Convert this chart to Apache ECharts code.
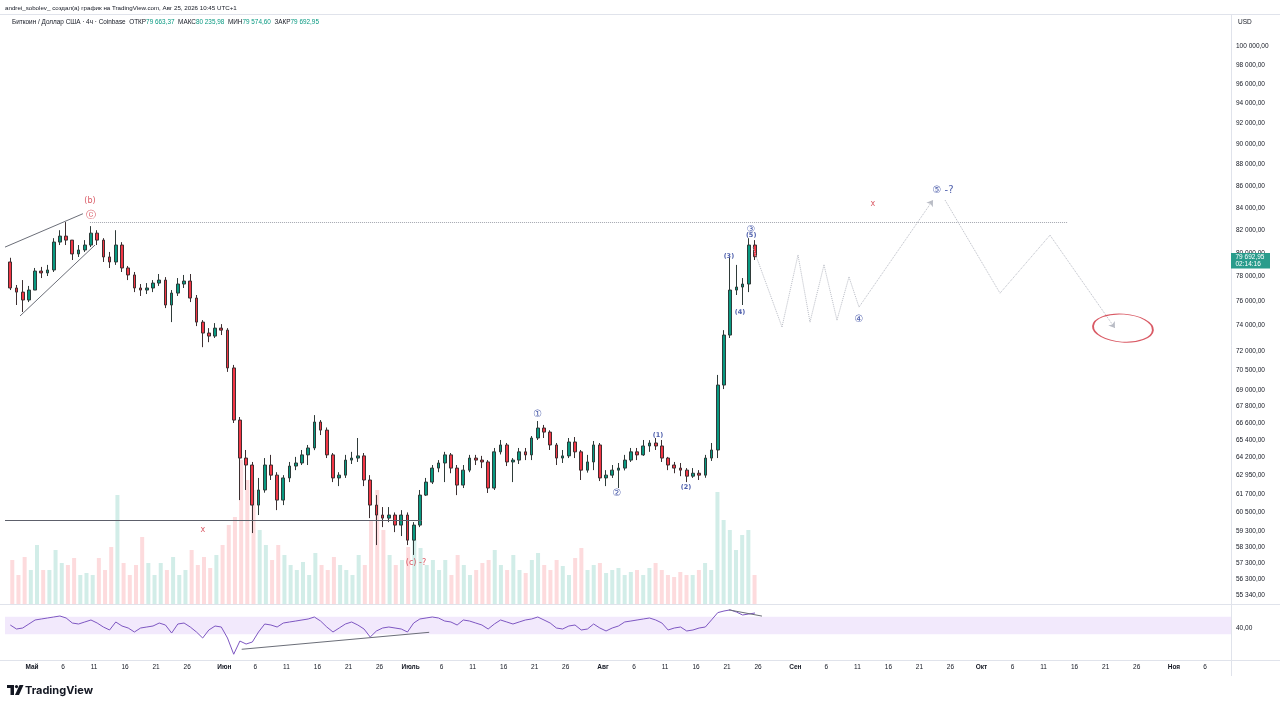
<!DOCTYPE html>
<html><head><meta charset="utf-8">
<script src="https://cdn.jsdelivr.net/npm/echarts@6/dist/echarts.min.js"></script>
<style>html,body{margin:0;padding:0;background:#fff}#c{width:1280px;height:706px}</style>
</head><body><div id="c"></div>
<script>
// ---------- DATA (daily resolution) ----------
const firstDay = '2026-04-27';
const firstOpen = 79240;
const closes = [77050,76710,76060,76880,78470,78310,78560,80960,81480,81130,
79930,80270,80700,81740,81130,79670,79240,80700,78730,78140,
77050,76880,77050,77460,77710,75650,76630,77380,77630,76220,
74270,73400,73160,73790,73630,70690,66830,64150,63670,60980,
61980,63670,62980,61310,62790,63600,63810,64370,64850,66690,
66110,64370,62790,62980,64010,64150,64300,62650,60980,60330,
60130,60330,59680,60330,58720,59680,61640,62510,63460,63810,
64370,63460,62310,63320,64150,64010,63880,62110,64580,65060,
63880,64010,64580,64370,65550,66260,65970,65060,64150,64300,
65270,64580,63320,63880,65060,62790,62980,63320,63460,64010,
64580,64370,64990,65200,64990,64150,63670,63460,63320,62910,
63110,62980,64150,64710,69400,73240,76880,77130,77380,80700,79692.95];
const highs = [79600,77300,77710,77220,78730,78820,78990,81300,82000,82720,
81130,80700,81130,82360,82000,81300,80100,82000,80950,78900,
78390,77380,77460,77710,78220,77960,76880,77880,78140,78220,
76470,74430,73790,74190,74110,73790,70920,67050,64710,63880,
62790,64150,64370,63180,62980,63880,64230,64710,65060,67190,
66830,66300,64500,63180,64370,64580,65550,64500,62980,61640,
60850,60850,60500,60650,60500,59870,61980,62790,63670,64010,
64580,64500,63670,63670,64370,64370,64300,64010,64850,65410,
65200,64150,64850,64850,65690,66760,66480,66100,65200,64710,
65550,65620,64710,64370,65340,65200,63320,63670,63810,64370,
64850,64850,65410,65400,65550,65410,64230,63880,63810,63460,
63460,63320,64370,65200,70160,73630,79600,78990,77880,81300,81130];
const lows = [76880,75650,75080,75890,76880,77880,78050,78390,80700,80700,
79410,79670,80100,80530,80700,79240,78730,78990,78390,77710,
76710,76390,76550,76710,77220,75400,74270,76390,77050,75890,
73950,72290,72680,73010,73240,70390,66620,61310,61980,59170,
60330,61800,62650,60650,60980,62510,63320,63670,63670,64700,
65760,64150,62510,62240,62790,63740,63880,62240,60130,58410,
59550,59870,59230,58980,58410,57790,59550,61580,62380,63180,
62510,63110,61640,62110,63180,63670,63460,61780,61980,64400,
63600,62510,63740,64010,64010,65410,65550,64710,63670,63810,
64150,64150,62650,63150,63320,62580,62240,62790,62110,63300,
63880,64010,64300,64580,64710,63880,63320,63110,62910,62510,
62790,62650,62800,63950,64150,69100,73010,76470,75650,76710,79410];
const volumes = [2640,1740,2820,2040,3540,2040,2040,3240,2460,2340,
2760,1740,1860,1740,2760,2040,3420,6540,2460,1740,
2340,4020,2460,1740,2460,2040,2820,1740,2040,3240,
2340,2820,2160,2940,3540,4740,5220,8640,7440,6840,
4440,3540,2640,3540,2940,2340,2040,2520,1740,3060,
2340,2040,2820,2340,2040,1740,2940,2340,5040,6840,
4440,2940,2340,2640,3420,3840,3360,2340,2640,2040,
2640,1740,2940,2340,1740,2040,2460,2640,3240,2340,
2040,2940,2040,1860,2640,3060,2340,2040,2640,2280,
1740,2760,3360,2040,2340,2460,1860,2040,2160,1740,
1920,2040,1740,2160,2460,2040,1740,1620,1920,1740,
1740,2040,2460,2040,6720,5040,4440,3240,4140,4440,1740];
const rsiValues = [46.9,38.7,40.6,49.2,59.7,62.6,65.7,68.9,72.3,65.7,
51.6,49.2,54.2,59.7,51.6,42.6,36.9,54.2,44.7,40.6,
33.5,40.6,42.6,44.7,51.6,46.9,31.9,49.2,51.6,42.6,
33.5,25.1,36.9,44.7,42.6,25.1,11.5,21.7,18.8,20.7,
33.5,49.2,46.9,42.6,51.6,54.2,56.8,59.7,62.6,68.9,
56.8,42.6,33.5,40.6,49.2,54.2,46.9,38.7,26.3,35.2,
40.6,42.6,40.6,38.7,33.5,51.6,62.6,65.7,68.9,65.7,
56.8,54.2,46.9,59.7,56.8,51.6,46.9,38.7,49.2,59.7,
54.2,49.2,54.2,59.7,62.6,68.9,59.7,51.6,40.6,38.7,
44.7,46.9,36.9,38.7,49.2,40.6,35.2,40.6,44.7,54.2,
56.8,59.7,62.6,65.7,59.7,51.6,36.9,40.6,42.6,35.2,
36.9,40.6,42.6,60,85,91.9,97,87.6,75.9,79.6,83.5];
const priceTicks = [100000,98000,96000,94000,92000,90000,88000,86000,84000,82000,80000,78000,76000,74000,72000,70500,69000,67800,66600,65400,64200,62950,61700,60500,59300,58300,57300,56300,55340];
const rsiTicks = [40];
const monthTicks = [['2026-05-01','Май'],['2026-06-01','Июн'],['2026-07-01','Июль'],['2026-08-01','Авг'],['2026-09-01','Сен'],['2026-10-01','Окт'],['2026-11-01','Ноя']];
const dayTicks = [6,11,16,21,26];
const lastInfo = {open:'79 663,37', high:'80 235,98', low:'79 574,60', close:'79 692,95', timer:'02:14:16'};
const RED = '#cf2f3d', BLUE = '#1f3596';
const annotations = [
 ['2026-05-10T08:00Z',84620,'(b)',RED,8,'normal'],
 ['2026-05-10T12:00Z',83350,'ⓒ',RED,10,'normal'],
 ['2026-05-28T13:00Z',59360,'x',RED,8,'normal'],
 ['2026-07-01T21:00Z',57290,'(c) -?',RED,8,'normal'],
 ['2026-07-21T12:00Z',67270,'①',BLUE,10,'normal'],
 ['2026-08-03T06:00Z',61770,'②',BLUE,10,'normal'],
 ['2026-08-09T21:00Z',65760,'(1)',BLUE,6.5,'bold'],
 ['2026-08-14T09:00Z',62180,'(2)',BLUE,6.5,'bold'],
 ['2026-08-21T07:00Z',79760,'(3)',BLUE,6.5,'bold'],
 ['2026-08-23T02:00Z',75080,'(4)',BLUE,6.5,'bold'],
 ['2026-08-24T21:00Z',82100,'③',BLUE,9.5,'normal'],
 ['2026-08-24T21:00Z',81560,'(5)',BLUE,6.5,'bold'],
 ['2026-09-11T06:00Z',74510,'④',BLUE,10,'normal'],
 ['2026-09-24T19:00Z',85630,'⑤ -?',BLUE,10,'normal'],
 ['2026-09-13T12:00Z',84340,'x',RED,8,'normal']
];
const projectionA = [['2026-08-25T04:00Z',80500],['2026-08-29T20:25Z',73880],['2026-09-01T10:20Z',79840],['2026-09-03T08:40Z',74270],['2026-09-05T14:50Z',78990],['2026-09-07T17:00Z',74430],['2026-09-09T15:30Z',77970],['2026-09-11T06:15Z',75480],['2026-09-23T04:20Z',84710]];
const projectionB = [['2026-09-25T02:50Z',84710],['2026-10-03T23:30Z',76620],['2026-10-12T00:45Z',81560],['2026-10-22T12:00Z',73790]];
const targetEllipse = ['2026-10-23T19:00Z',73790];
const wedgeUpper = [['2026-04-26T15:35Z',80520],['2026-05-09T05:00Z',83470]];
const wedgeLower = [['2026-04-29T01:40Z',74760],['2026-05-11T03:40Z',80700]];
const level60k = [['2026-04-26T15:35Z',60000],['2026-07-02T20:10Z',60000]];
const levelTop = [['2026-05-10T08:00Z',82720],['2026-10-14T22:30Z',82720]];
const rsiLine1 = [['2026-06-03T19:00Z',14.6],['2026-07-04T00:00Z',33.0]];
const rsiLine2 = [['2026-08-21T07:00Z',97],['2026-08-26T15:00Z',72]];

// ---------- BUILD ----------
const DAY = 86400000;
const t0 = Date.parse(firstDay + 'T12:00:00Z');
const opens = closes.map((c,i)=> i===0 ? firstOpen : closes[i-1]);
const candleData = closes.map((c,i)=>[t0+i*DAY, opens[i], c, lows[i], highs[i]]);
const volData = volumes.map((v,i)=>({value:[t0+i*DAY, v], itemStyle:{color: closes[i]>=opens[i] ? 'rgba(8,153,129,0.18)' : 'rgba(242,54,69,0.18)'}}));
const rsiData = rsiValues.map((v,i)=>[t0+i*DAY, v]);
const P = a => [Date.parse(a[0]), a[1]];
function segs(path){ const out=[]; for(let i=0;i<path.length-1;i++) out.push({coords:[P(path[i]),P(path[i+1])]}); return out; }

const X0 = Date.UTC(2026,3,26,15,35), X1 = Date.UTC(2026,10,10,4,48);
const FONT = '"Liberation Sans", Arial, sans-serif';
const chart = echarts.init(document.getElementById('c'));

const projA = segs(projectionA), projB = segs(projectionB);
const arrowSegs = [projA.pop(), projB.pop()];

chart.setOption({
  animation:false,
  backgroundColor:'#ffffff',
  grid:[
    {left:5,right:49,top:14,height:590.5},
    {left:5,right:49,top:440,height:164},
    {left:5,right:49,top:605,height:55}
  ],
  xAxis:[0,1,2].map(i=>({type:'time',gridIndex:i,min:X0,max:X1,show:false})),
  yAxis:[
    {type:'log',logBase:10,gridIndex:0,min:54786,max:103510,show:false},
    {type:'value',gridIndex:1,min:0,max:9840,show:false},
    {type:'log',logBase:10,gridIndex:2,min:8.72,max:122.7,show:false}
  ],
  series:[
    {type:'bar',name:'vol',xAxisIndex:1,yAxisIndex:1,data:volData,barWidth:4,silent:true,z:1},
    {type:'candlestick',xAxisIndex:0,yAxisIndex:0,data:candleData,encode:{x:0,y:[1,2,3,4]},barWidth:3.2,
      itemStyle:{color:'#089981',color0:'#f23645',borderColor:'#2f3b39',borderColor0:'#3d2f31',borderWidth:1},z:3},
    {type:'lines',coordinateSystem:'cartesian2d',xAxisIndex:0,yAxisIndex:0,silent:true,z:4,
      data:[{coords:wedgeUpper.map(P)},{coords:wedgeLower.map(P)}],lineStyle:{color:'#6b6e78',width:1,opacity:1}},
    {type:'lines',coordinateSystem:'cartesian2d',xAxisIndex:0,yAxisIndex:0,silent:true,z:4,
      data:[{coords:level60k.map(P)}],lineStyle:{color:'#5d606b',width:1,opacity:1}},
    {type:'lines',coordinateSystem:'cartesian2d',xAxisIndex:0,yAxisIndex:0,silent:true,z:4,
      data:[{coords:levelTop.map(P)}],lineStyle:{color:'#a3a6af',width:1,type:'dotted',opacity:1}},
    {type:'lines',coordinateSystem:'cartesian2d',xAxisIndex:0,yAxisIndex:0,silent:true,z:4,
      data:projA.concat(projB),lineStyle:{color:'#b9bcc5',width:1,type:'dotted',opacity:1}},
    {type:'lines',coordinateSystem:'cartesian2d',xAxisIndex:0,yAxisIndex:0,silent:true,z:4,
      symbol:['none','arrow'],symbolSize:6,
      data:arrowSegs,lineStyle:{color:'#b9bcc5',width:1,type:'dotted',opacity:1}},
    {type:'scatter',xAxisIndex:0,yAxisIndex:0,silent:true,z:5,
      data:[{value:P(targetEllipse)}],symbol:'circle',symbolSize:[60,28],symbolRotate:-4,
      itemStyle:{color:'rgba(0,0,0,0)',borderColor:'#cf2f3d',borderWidth:1.3}},
    {type:'scatter',xAxisIndex:0,yAxisIndex:0,silent:true,z:6,symbolSize:1,itemStyle:{color:'rgba(0,0,0,0)'},
      label:{show:true,position:'inside',fontFamily:'"DejaVu Sans", sans-serif'},
      data:annotations.map(a=>({value:[Date.parse(a[0]),a[1]],label:{formatter:a[2],color:a[3],fontSize:a[4],fontWeight:a[5]}}))},
    {type:'line',xAxisIndex:2,yAxisIndex:2,data:rsiData,symbol:'none',lineStyle:{color:'#7e57c2',width:1},z:3,
      markArea:{silent:true,itemStyle:{color:'rgba(149,76,233,0.12)'},data:[[{yAxis:30},{yAxis:70}]]}},
    {type:'lines',coordinateSystem:'cartesian2d',xAxisIndex:2,yAxisIndex:2,silent:true,z:4,
      data:[{coords:rsiLine1.map(P)},{coords:rsiLine2.map(P)}],lineStyle:{color:'#6b6e78',width:1,opacity:1}}
  ]
});

function fmt(v){
  const s = v.toFixed(2).split('.');
  return s[0].replace(/\B(?=(\d{3})+(?!\d))/g,' ') + ',' + s[1];
}
const g = [];
const line = (x1,y1,x2,y2)=>g.push({type:'line',shape:{x1,y1,x2,y2},style:{stroke:'#e0e3eb',lineWidth:1},silent:true});
line(0,14.5,1280,14.5); line(0,604.5,1280,604.5); line(0,660.5,1280,660.5); line(1231.5,14.5,1231.5,676);
const txt = (x,y,text,o)=>g.push(Object.assign({type:'text',x,y,silent:true,style:Object.assign({text,fill:'#131722',fontSize:6.5,fontFamily:FONT,align:'left',verticalAlign:'middle'},o||{})}));
priceTicks.forEach(v=>txt(1236, chart.convertToPixel({yAxisIndex:0}, v), fmt(v)));
rsiTicks.forEach(v=>txt(1236, chart.convertToPixel({yAxisIndex:2}, v), fmt(v)));
txt(1238,22,'USD');
monthTicks.forEach(m=>{
  const base = Date.parse(m[0]+'T00:00:00Z');
  txt(chart.convertToPixel({xAxisIndex:2}, base), 667, m[1], {align:'center',fontWeight:'bold'});
  dayTicks.forEach(d=>{
    const ts = base + (d-1)*DAY;
    const x = chart.convertToPixel({xAxisIndex:2}, ts);
    if (x < 1225) txt(x, 667, String(d), {align:'center'});
  });
});
// header
txt(5,8,'andrei_sobolev_ создал(а) график на TradingView.com, Авг 25, 2026 10:45 UTC+1',{fontSize:6.2});
g.push({type:'text',x:12,y:22,silent:true,style:{
  text:'{a|Биткоин / Доллар США · 4ч · Coinbase}  {a|ОТКР}{v|'+lastInfo.open+'}  {a|МАКС}{v|'+lastInfo.high+'}  {a|МИН}{v|'+lastInfo.low+'}  {a|ЗАКР}{v|'+lastInfo.close+'}',
  verticalAlign:'middle',fontFamily:FONT,fontSize:6.4,
  rich:{a:{fill:'#131722',fontSize:6.4,fontFamily:FONT},v:{fill:'#089981',fontSize:6.4,fontFamily:FONT}}}});
// current price tag
const py = chart.convertToPixel({yAxisIndex:0}, closes[closes.length-1]);
g.push({type:'rect',shape:{x:1231,y:py-3.8,width:39,height:15.5},style:{fill:'#2a9c8c'},silent:true});
txt(1235.5,py+0.4,lastInfo.close,{fill:'#ffffff'});
txt(1235.5,py+7.6,lastInfo.timer,{fill:'#ffffff'});
// TradingView logo
g.push({type:'rect',shape:{x:7,y:685,width:7,height:3},style:{fill:'#131722'},silent:true});
g.push({type:'rect',shape:{x:10.5,y:685,width:3.5,height:10},style:{fill:'#131722'},silent:true});
g.push({type:'circle',shape:{cx:16.5,cy:686.6,r:1.6},style:{fill:'#131722'},silent:true});
g.push({type:'polygon',shape:{points:[[19.5,685],[23.5,685],[19,695],[15,695]]},style:{fill:'#131722'},silent:true});
txt(25,690.5,'TradingView',{fontSize:11,fontWeight:'bold',fontFamily:'Inter, "Liberation Sans", sans-serif'});
chart.setOption({graphic:{elements:g}});
</script>
</body></html>
